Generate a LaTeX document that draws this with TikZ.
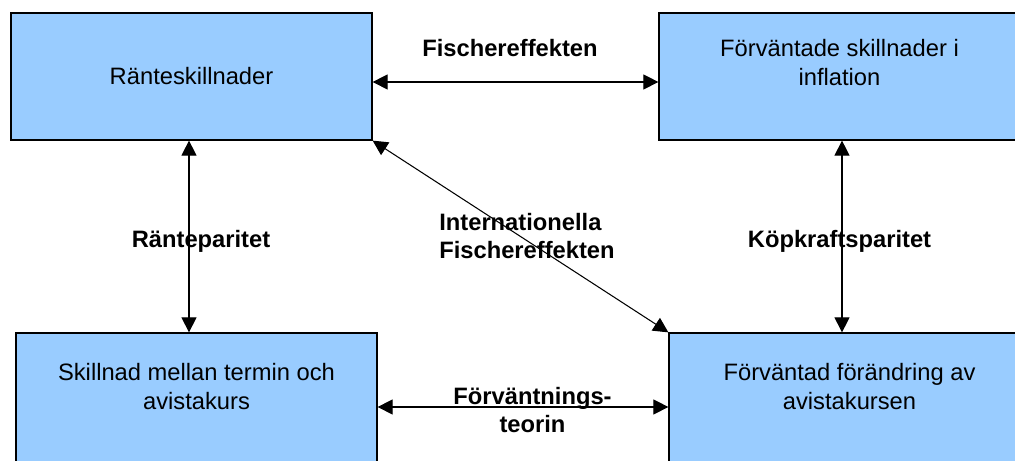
\documentclass[tikz,border=0pt]{standalone}
\usepackage{fontspec}
\setmainfont{Liberation Sans}
\usetikzlibrary{arrows.meta,positioning,calc}
\definecolor{boxfill}{RGB}{153,204,255}

\begin{document}
\begin{tikzpicture}[
    >={Triangle[length=3mm, width=3mm]},
    block/.style={rectangle, minimum width=7.22cm, minimum height=2.54cm, align=center, font=\fontsize{13.5}{16.5}\selectfont, draw, fill=boxfill, line width=0.7pt},
    arrow/.style={<->, line width=0.6pt},
    tag/.style={font=\fontsize{13.5}{15.5}\selectfont\bfseries, align=center},
]
\useasboundingbox (0,0) rectangle (20.3,9.22);
\clip (0,0) rectangle (20.3,9.22);

\node[block] (A) at (3.83,7.69) {Ränteskillnader};
\node[block] (B) at (16.79,7.69) {Förväntade skillnader i\\inflation\\~};
\node[block, minimum height=2.7cm] (C) at (3.93,1.21) {Skillnad mellan termin och\\avistakurs\\~};
\node[block, minimum height=2.7cm] (D) at (16.99,1.21) {Förväntad förändring av\\avistakursen\\~};

\draw[arrow] ([yshift=-0.11cm]A.east) -- ([yshift=-0.11cm]B.west);
\draw[arrow] ([xshift=-0.05cm]A.south) -- ([xshift=-0.05cm]A.south |- C.north);
\draw[arrow] ([xshift=0.05cm]B.south) -- ([xshift=0.05cm]B.south |- D.north);
\draw[arrow] (A.south east) -- (D.north west);
\draw[arrow] ([yshift=-0.13cm]C.east) -- ([yshift=-0.13cm]D.west);

\node[tag] (fisher) at (10.2,8.26) {Fischereffekten};
\node[tag] (rp) at (4.02,4.4) {Ränteparitet};
\node[tag] (kp) at (16.79,4.4) {Köpkraftsparitet};
\node[tag, align=left] (ife) at (10.54,4.5) {Internationella\\Fischereffekten};
\node[tag] (ft) at (10.65,1.02) {Förväntnings-\\teorin};
\end{tikzpicture}
\end{document}
